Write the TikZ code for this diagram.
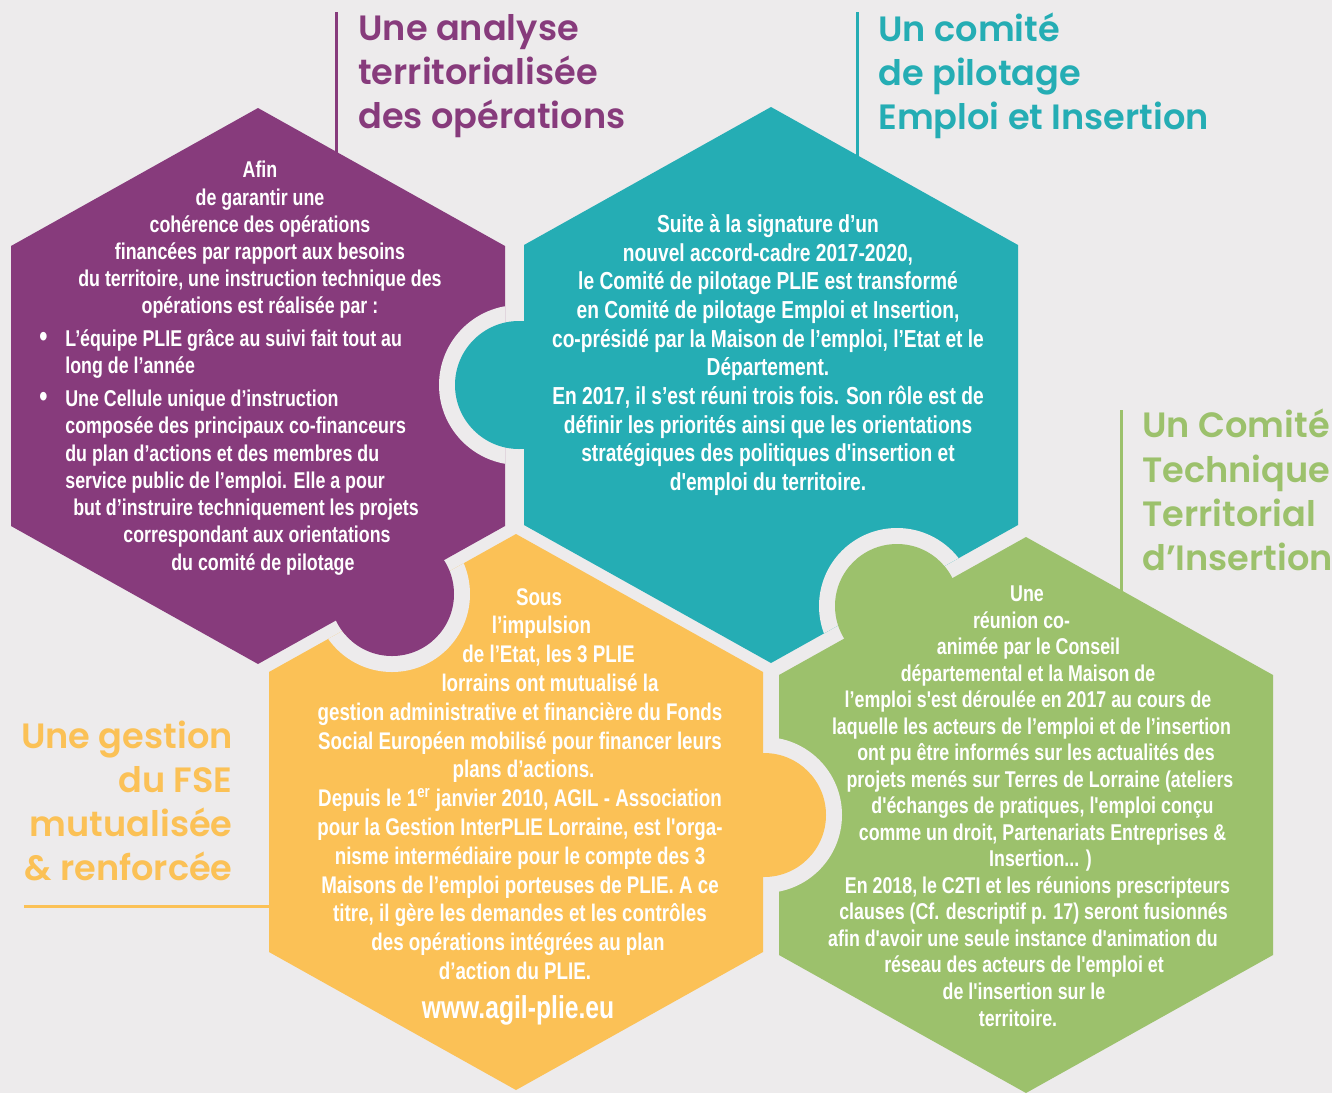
\documentclass[tikz,border=0pt]{standalone}
\usepackage{fontspec}
\usepackage{tikz}
\usetikzlibrary{positioning}
\newfontfamily\bodyfont{Liberation Sans}[FakeStretch=0.78, Ligatures=TeXOff]
\newfontfamily\titlefont{Poppins SemiBold}
\definecolor{bgcolor}{RGB}{237,235,236}
\definecolor{purplehex}{RGB}{135,59,124}
\definecolor{tealhex}{RGB}{37,173,180}
\definecolor{yellowhex}{RGB}{251,193,86}
\definecolor{greenhex}{RGB}{156,193,108}
\newlength\px
\setlength\px{0.02cm}
% hexagon centred on (#1,#2), picture in pixel units
\newcommand{\hexa}[2]{(#1,#2-278) -- (#1+247,#2-140) -- (#1+247,#2+140) -- (#1,#2+278) -- (#1-247,#2+140) -- (#1-247,#2-140) -- cycle}
% shift one centred line sideways
\newcommand{\shiftln}[2]{\hspace*{#1}#2\hspace*{-#1}}
\newcommand{\bul}{\makebox[26\px][l]{\fontsize{17pt}{15pt}\selectfont•}}

\begin{document}
\begin{tikzpicture}[
    x=0.02cm, y=-0.02cm,
    body/.style 2 args={text=white, align=center, inner sep=0pt, font=\bodyfont\bfseries\fontsize{#1}{#2}\selectfont},
    title/.style={inner sep=0pt, font=\titlefont\fontsize{20pt}{25.2pt}\selectfont},
    rule/.style={line width=3\px},
    gap/.style={fill=bgcolor}
]
    \fill[bgcolor] (0,0) rectangle (1332,1093);
    \useasboundingbox (0,0) rectangle (1332,1093);

    % Title rules
    \draw[rule, purplehex] (336,12) -- (336,170);
    \draw[rule, tealhex] (857,12) -- (857,175);
    \draw[rule, greenhex] (1121,410) -- (1121,610);
    \draw[rule, yellowhex] (24,906) -- (290,906);

    % Four hexagons
    \fill[purplehex] \hexa{258}{386};
    \fill[tealhex] \hexa{771}{385};
    \fill[yellowhex] \hexa{516}{812};
    \fill[greenhex] \hexa{1026}{815};

    % Knobs, each with its gap cut into the neighbour
    \begin{scope}
        \clip \hexa{258}{386};
        \fill[gap] (519,385) circle[radius=80];
    \end{scope}
    \fill[tealhex] (519,385) circle[radius=64];
    \begin{scope}
        \clip \hexa{516}{812};
        \fill[gap] (392,594) circle[radius=78];
    \end{scope}
    \fill[purplehex] (392,594) circle[radius=62];
    \begin{scope}
        \clip \hexa{771}{385};
        \fill[gap] (897,606) circle[radius=78];
    \end{scope}
    \fill[greenhex] (897,606) circle[radius=62];
    \begin{scope}
        \clip \hexa{1026}{815};
        \fill[gap] (764,815) circle[radius=78];
    \end{scope}
    \fill[yellowhex] (764,815) circle[radius=62];

    % Titles
    \node[title, text=purplehex, align=left, anchor=west] (titlepurple) at (358,76) {Une analyse\\territorialisée\\des opérations};
    \node[title, text=tealhex, align=left, anchor=west] (titleteal) at (878,76) {Un comité\\de pilotage\\Emploi et Insertion};
    \node[title, text=greenhex, align=left, anchor=west] (titlegreen) at (1142,490) {Un Comité\\Technique\\Territorial\\d’Insertion};
    \node[title, text=yellowhex, align=right, anchor=east] (titleyellow) at (233,801) {Une gestion\\du FSE\\mutualisée\\\& renforcée};

    % Purple text
    \node[body={13pt}{15.5pt}] (purplehead) at (260,240) {Afin\\de garantir une\\cohérence des opérations\\financées par rapport aux besoins\\du territoire, une instruction technique des\\opérations est réalisée par :};
    \node[body={13pt}{15.5pt}, align=left, anchor=west] (purplelist) at (39,452) {\bul L’équipe PLIE grâce au suivi fait tout au\\
        \hspace*{26\px}long de l’année\\[6\px]
        \bul Une Cellule unique d’instruction\\
        \hspace*{26\px}composée des principaux co-financeurs\\
        \hspace*{26\px}du plan d’actions et des membres du\\
        \hspace*{26\px}service public de l’emploi. Elle a pour\\
        \hspace*{34\px}but d’instruire techniquement les projets\\
        \hspace*{84\px}correspondant aux orientations\\
        \hspace*{132\px}du comité de pilotage};

    % Teal text
    \node[body={14pt}{16.3pt}] (tealtxt) at (768,355) {Suite à la signature d’un\\nouvel accord-cadre 2017-2020,\\le Comité de pilotage PLIE est transformé\\en Comité de pilotage Emploi et Insertion,\\co-présidé par la Maison de l’emploi, l’Etat et le\\Département.\\En 2017, il s’est réuni trois fois. Son rôle est de\\définir les priorités ainsi que les orientations\\stratégiques des politiques d'insertion et\\d'emploi du territoire.};

    % Yellow text
    \node[body={13.7pt}{16.4pt}] (yellowtxt) at (520,784) {\shiftln{19\px}{Sous}\\\shiftln{43\px}{l’impulsion}\\\shiftln{57\px}{de l’Etat, les 3 PLIE}\\\shiftln{60\px}{lorrains ont mutualisé la}\\gestion administrative et financière du Fonds\\Social Européen mobilisé pour financer leurs\\\shiftln{7\px}{plans d’actions.}\\Depuis le 1\textsuperscript{er} janvier 2010, AGIL - Association\\pour la Gestion InterPLIE Lorraine, est l'orga-\\nisme intermédiaire pour le compte des 3\\Maisons de l’emploi porteuses de PLIE. A ce\\titre, il gère les demandes et les contrôles\\\shiftln{-4\px}{des opérations intégrées au plan}\\\shiftln{-5\px}{d’action du PLIE.}};
    \node[body={18pt}{20pt}] (url) at (518,1010) {www.agil-plie.eu};

    % Green text
    \node[body={13pt}{15.1pt}] (greentxt) at (1030,806) {\shiftln{-3\px}{Une}\\\shiftln{-17\px}{réunion co-}\\\shiftln{-3\px}{animée par le Conseil}\\\shiftln{-4\px}{départemental et la Maison de}\\\shiftln{-4\px}{l’emploi s'est déroulée en 2017 au cours de}\\\shiftln{3\px}{laquelle les acteurs de l’emploi et de l’insertion}\\\shiftln{12\px}{ont pu être informés sur les actualités des}\\\shiftln{20\px}{projets menés sur Terres de Lorraine (ateliers}\\\shiftln{25\px}{d'échanges de pratiques, l'emploi conçu}\\\shiftln{25\px}{comme un droit, Partenariats Entreprises \&}\\\shiftln{21\px}{Insertion... )}\\\shiftln{15\px}{En 2018, le C2TI et les réunions prescripteurs}\\\shiftln{7\px}{clauses (Cf. descriptif p. 17) seront fusionnés}\\\shiftln{-14\px}{afin d'avoir une seule instance d'animation du}\\\shiftln{-12\px}{réseau des acteurs de l'emploi et}\\\shiftln{-12\px}{de l'insertion sur le}\\\shiftln{-12\px}{territoire.}};
\end{tikzpicture}
\end{document}
